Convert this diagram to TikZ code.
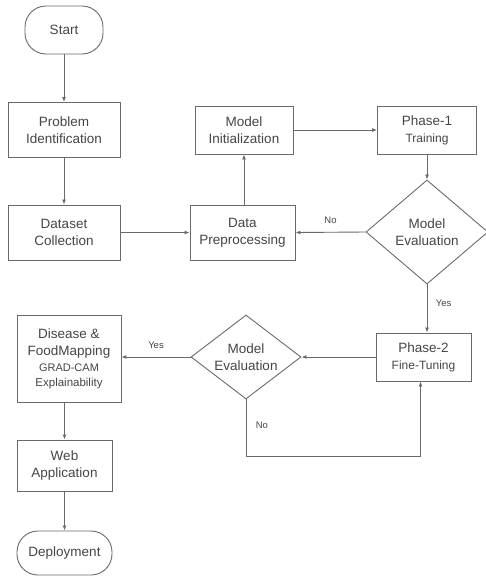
\documentclass[tikz,border=0pt]{standalone}
\usepackage{fontspec}
\setmainfont{Liberation Sans}
\usetikzlibrary{shapes.geometric,arrows.meta}
\definecolor{linec}{HTML}{6A6A6A}
\definecolor{textc}{HTML}{454545}
\tikzset{
  base/.style={draw=linec, line width=0.9pt, text=textc, align=center, inner sep=0pt,
    font=\fontsize{13.5}{17}\selectfont},
  box/.style={base, rectangle},
  term/.style={base, rectangle, rounded corners=21pt},
  dia/.style={base, diamond},
  conn/.style={draw=linec, line width=0.9pt, -{Latex[length=5pt,width=4pt]}},
  lab/.style={text=textc, font=\fontsize{9.5}{11}\selectfont},
  dtext/.style={text=textc, align=center, font=\fontsize{13.5}{17}\selectfont}
}
\begin{document}
\begin{tikzpicture}[x=1pt,y=-1pt]
\useasboundingbox (0,0) rectangle (486,584);
\node[term, minimum width=78pt, minimum height=48pt] (start) at (64,30) {Start};
\node[box, minimum width=112pt, minimum height=55pt] (prob) at (64,130) {Problem\\Identification};
\node[box, minimum width=112pt, minimum height=55pt] (data) at (64,232.5) {Dataset\\Collection};
\node[box, minimum width=105pt, minimum height=55pt] (prep) at (242.5,232.5) {Data\\Preprocessing};
\node[box, minimum width=98pt, minimum height=48pt] (init) at (244,130) {Model\\Initialization};
\node[box, minimum width=99pt, minimum height=48pt] (ph1) at (427,130) {Phase-1\\{\fontsize{12}{15}\selectfont Training}};
\node[dia, minimum width=122pt, minimum height=104pt] (ev1) at (427,232) {};
\node[dtext] (ev1t) at (ev1.center) {Model\\Evaluation};
\node[box, minimum width=95pt, minimum height=48pt] (ph2) at (423.5,357) {Phase-2\\{\fontsize{12}{15}\selectfont Fine-Tuning}};
\node[dia, minimum width=110pt, minimum height=84pt] (ev2) at (246,357) {};
\node[dtext] (ev2t) at (ev2.center) {Model\\Evaluation};
\node[box, minimum width=104pt, minimum height=87pt] (dis) at (69,358.5) {Disease \&\\FoodMapping\\[-1pt]{\fontsize{11}{14}\selectfont GRAD-CAM}\\[-2pt]{\fontsize{11.5}{14}\selectfont Explainability}};
\node[box, minimum width=95pt, minimum height=51pt] (web) at (64.5,465.5) {Web\\Application};
\node[term, minimum width=95pt, minimum height=44pt, rounded corners=21pt] (dep) at (64.5,553) {Deployment};
\draw[conn] (start.south) -- (start.south |- prob.north);
\draw[conn] (prob) -- (data);
\draw[conn] (data) -- (prep);
\draw[conn] (prep.north -| init.south) -- (init.south);
\draw[conn] (init) -- (ph1);
\draw[conn] (ph1) -- (ev1);
\draw[conn] (ev1.west) -- node[lab, above=5pt] {No} (prep.east);
\draw[conn] (ev1.south) -- node[lab, right=5pt, pos=0.4] {Yes} (ev1.south |- ph2.north);
\draw[conn] (ph2.west) -- (ev2.east);
\draw[conn] (ev2.west) -- node[lab, above=5pt] {Yes} (dis.east |- ev2.west);
\draw[conn] (ev2.south) -- node[lab, right=6pt, pos=0.45] {No} ++(0,57) -| ([xshift=-3pt]ph2.south);
\draw[conn] (dis.south -| web.north) -- (web.north);
\draw[conn] (web) -- (dep);
\end{tikzpicture}
\end{document}
